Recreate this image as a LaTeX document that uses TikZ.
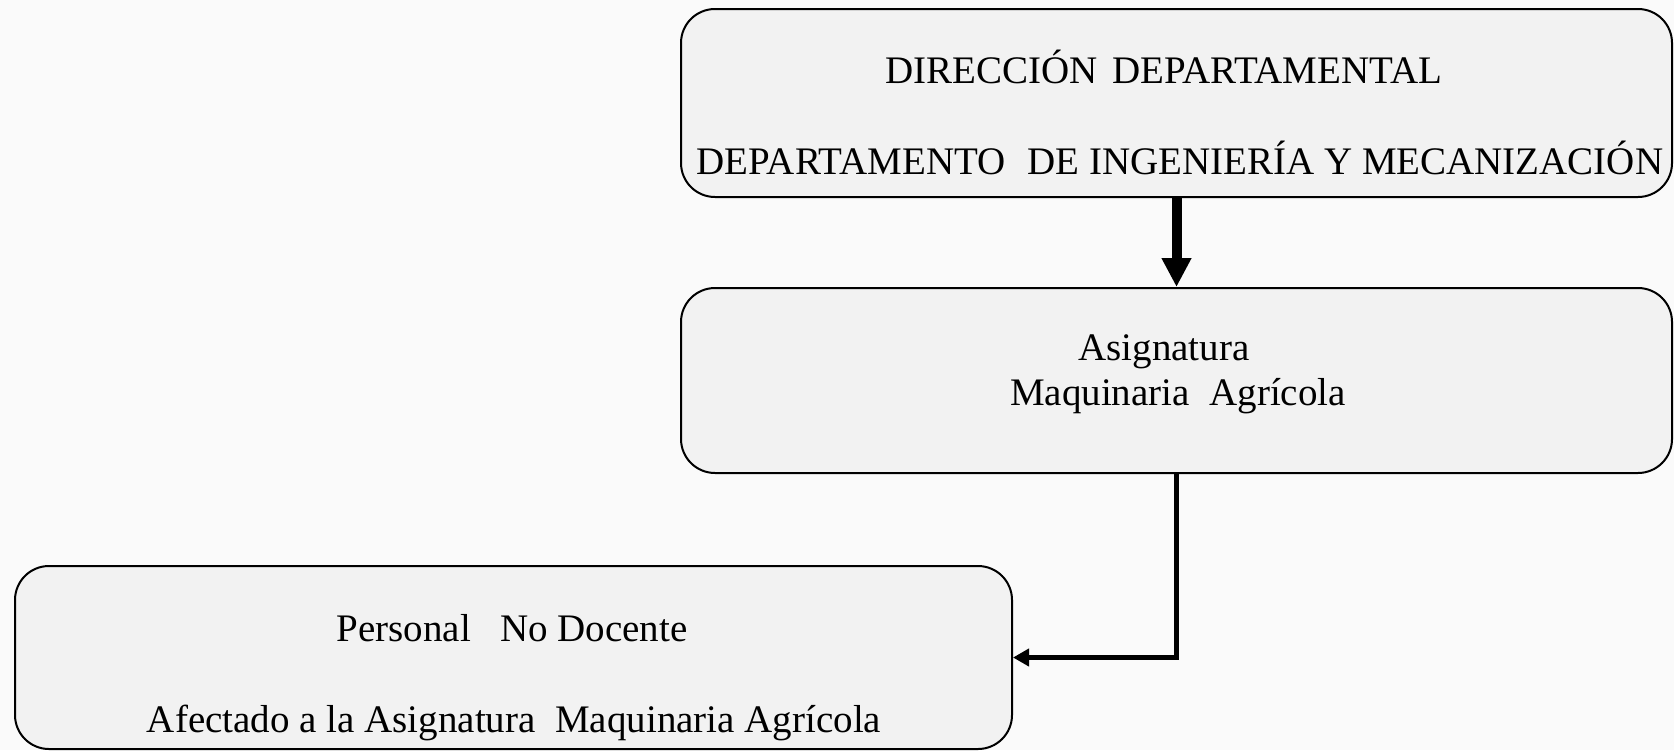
\documentclass[tikz,border=0pt]{standalone}
\usepackage{fontspec}
\setmainfont{Liberation Serif}
\usetikzlibrary{arrows.meta}
\begin{document}
\begin{tikzpicture}
			[
				x=0.5pt, y=-0.5pt,
				box/.style={draw=black, line width=1pt, rounded corners=17pt, fill=black!5, inner sep=0pt},
				boxtext/.style={font=\fontsize{19.5}{23}\selectfont, inner sep=0pt, anchor=base},
				bigflow/.style={line width=5pt, -{Triangle[width=14pt, length=14.5pt]}},
				flow/.style={line width=2.5pt, -{Triangle[width=8.5pt, length=8pt]}}
			]
			% Page
			\fill[black!2] (0,0) rectangle (1674,750);
			\useasboundingbox (0,0) rectangle (1674,750);
			% Boxes
			\node[box, minimum width=495.5pt, minimum height=94pt] (direccion) at (1176.5,103) {};
			\node[box, minimum width=495.5pt, minimum height=92.5pt] (asignatura) at (1176.5,380.5) {};
			\node[box, minimum width=498.5pt, minimum height=91.5pt] (personal) at (513.5,657.5) {};
			% Texts
			\node[boxtext] (direccion-1) at (1164,83) {DIRECCIÓN\hspace{7pt}DEPARTAMENTAL};
			\node[boxtext] (direccion-2) at (1180,174) {DEPARTAMENTO\hspace{11pt}DE INGENIERÍA Y MECANIZACIÓN};
			\foreach \n/\x/\y/\txt in {1/1164/360/Asignatura, 2/1178/405/Maquinaria~ Agrícola} {
					\node[boxtext] (asignatura-\n) at (\x,\y) {\txt};
				}
			\node[boxtext] (personal-1) at (512,641) {Personal~~ No Docente};
			\node[boxtext] (personal-2) at (514,732) {Afectado a la Asignatura~ Maquinaria Agrícola};
			% Arrows
			\draw[bigflow] (direccion.south) -- (asignatura.north);
			\draw[flow] (asignatura.south) |- (personal.east);
		\end{tikzpicture}
\end{document}
